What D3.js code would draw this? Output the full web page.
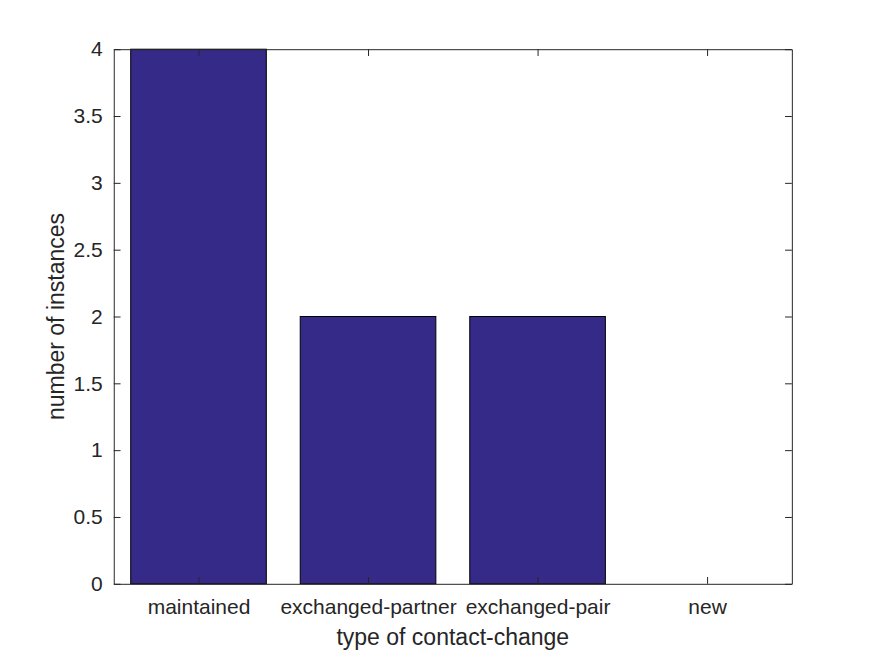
<!DOCTYPE html>
<html>
<head>
<meta charset="utf-8">
<script src="https://cdn.jsdelivr.net/npm/d3@7"></script>
<style>
  html, body { margin: 0; padding: 0; background: #fff; }
  svg { display: block; }
  text { font-family: "Liberation Sans", Arial, Helvetica, sans-serif; fill: #262626; }
</style>
</head>
<body>
<svg id="chart" width="875" height="656"></svg>
<script>
const categories = ["maintained", "exchanged-partner", "exchanged-pair", "new"];
const counts = [4, 2, 2, 0];
const yTicks = [0, 0.5, 1, 1.5, 2, 2.5, 3, 3.5, 4];
const yTickLabels = ["0", "0.5", "1", "1.5", "2", "2.5", "3", "3.5", "4"];
const xLabel = "type of contact-change";
const yLabel = "number of instances";

(function () {
const svg = d3.select("#chart");
const pLeft = 113.75, pWidth = 678.1;
const pTop = 49.2, pHeight = 534.6;
const pRight = pLeft + pWidth, pBottom = pTop + pHeight;
const axisColor = "#262626";
const tickLen = 6.8;

const x = d3.scaleLinear().domain([0.5, categories.length + 0.5]).range([pLeft, pRight]);
const y = d3.scaleLinear().domain([0, 4]).range([pBottom, pTop]);
const barW = 0.8;

svg.append("g").selectAll("rect").data(counts).join("rect")
  .attr("x", (d, i) => x(i + 1 - barW / 2))
  .attr("width", (d, i) => x(i + 1 + barW / 2) - x(i + 1 - barW / 2))
  .attr("y", d => y(d))
  .attr("height", d => y(0) - y(d))
  .attr("fill", "#352a87")
  .attr("stroke", d => d > 0 ? "#000" : "none")
  .attr("stroke-width", 1);

const xIdx = categories.map((c, i) => i + 1);
const bottomAxis = d3.axisBottom(x).tickValues(xIdx).tickFormat((d) => categories[d - 1]).tickSizeInner(-tickLen).tickSizeOuter(0).tickPadding(15);
const topAxis = d3.axisTop(x).tickValues(xIdx).tickFormat("").tickSizeInner(-tickLen).tickSizeOuter(0);
const leftAxis = d3.axisLeft(y).tickValues(yTicks).tickFormat((d, i) => yTickLabels[i]).tickSizeInner(-tickLen).tickSizeOuter(0).tickPadding(11);
const rightAxis = d3.axisRight(y).tickValues(yTicks).tickFormat("").tickSizeInner(-tickLen).tickSizeOuter(0);

function style(g) {
  g.selectAll("path.domain").attr("stroke", axisColor).attr("stroke-width", 1);
  g.selectAll(".tick line").attr("stroke", axisColor).attr("stroke-width", 1);
  g.selectAll(".tick text").attr("fill", axisColor).style("font-size", "21px")
    .style("font-family", '"Liberation Sans", Arial, Helvetica, sans-serif');
}
svg.append("g").attr("transform", `translate(0,${pBottom})`).call(bottomAxis).call(style);
svg.append("g").attr("transform", `translate(0,${pTop})`).call(topAxis).call(style);
svg.append("g").attr("transform", `translate(${pLeft},0)`).call(leftAxis).call(style);
svg.append("g").attr("transform", `translate(${pRight},0)`).call(rightAxis).call(style);

svg.append("text")
  .attr("x", (pLeft + pRight) / 2).attr("y", 645)
  .attr("text-anchor", "middle")
  .style("font-size", "23px")
  .text(xLabel);
svg.append("text")
  .attr("transform", `translate(64,${(pTop + pBottom) / 2}) rotate(-90)`)
  .attr("text-anchor", "middle")
  .style("font-size", "23px")
  .text(yLabel);
})();
</script>
</body>
</html>
